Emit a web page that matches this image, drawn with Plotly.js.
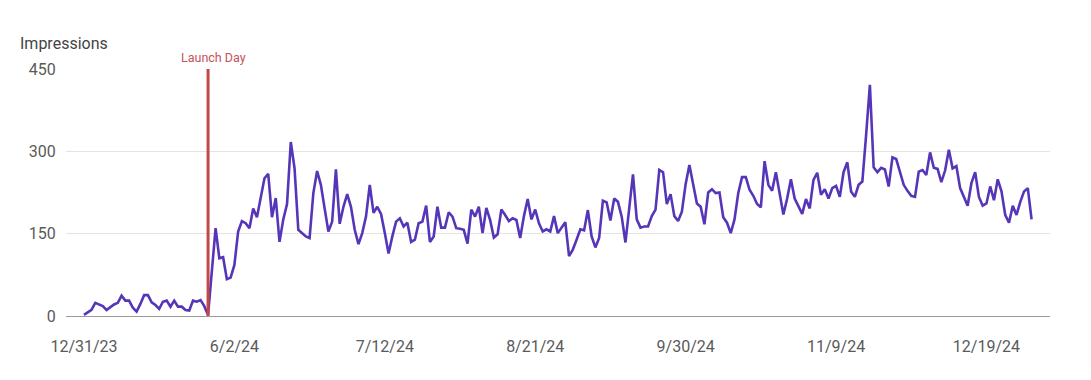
<!DOCTYPE html>
<html>
<head>
<meta charset="utf-8">
<script src="https://cdn.plot.ly/plotly-3.0.1.min.js"></script>
<style>
  html, body { margin: 0; padding: 0; background: #ffffff; }
  #chart { width: 1091px; height: 380px; }
</style>
</head>
<body>
<div id="chart"></div>
<script>
// Daily impressions (one value per reporting point)
const impressions = [
  2, 6, 11, 24, 21, 18, 11, 16, 21, 24, 37, 28, 28, 15, 8, 22, 38, 38, 25, 20,
  13, 26, 28, 17, 28, 17, 17, 11, 10, 28, 26, 29, 18, 2, 85, 160, 105, 107, 67, 70,
  93, 154, 173, 169, 160, 196, 180, 217, 251, 259, 180, 215, 135, 176, 204, 317, 269, 157, 151, 145,
  142, 224, 264, 239, 196, 154, 172, 267, 168, 199, 222, 199, 157, 131, 151, 181, 239, 188, 199, 186,
  151, 114, 145, 172, 178, 163, 170, 135, 139, 169, 172, 201, 135, 145, 199, 161, 161, 189, 181, 160,
  159, 157, 132, 194, 181, 199, 151, 197, 175, 143, 149, 194, 184, 173, 178, 175, 142, 182, 213, 176,
  194, 169, 154, 158, 154, 182, 151, 160, 171, 109, 121, 139, 158, 156, 193, 145, 125, 142, 210, 207,
  174, 214, 208, 181, 134, 196, 258, 176, 161, 163, 163, 182, 194, 266, 262, 204, 222, 182, 173, 190,
  240, 275, 242, 205, 199, 167, 225, 231, 224, 225, 180, 170, 151, 176, 224, 253, 253, 230, 219, 204,
  198, 282, 239, 228, 262, 221, 185, 214, 249, 214, 201, 186, 213, 196, 248, 261, 221, 231, 214, 233,
  237, 217, 262, 280, 227, 217, 239, 245, 330, 421, 271, 262, 270, 267, 236, 289, 286, 263, 239, 228,
  219, 217, 263, 266, 257, 298, 270, 268, 244, 265, 303, 269, 273, 233, 217, 201, 242, 262, 217, 201,
  205, 236, 211, 249, 227, 184, 170, 201, 184, 208, 227, 233, 176
];
const tickLabels = ['12/31/23', '6/2/24', '7/12/24', '8/21/24', '9/30/24', '11/9/24', '12/19/24'];
const tickStep = 40;           // points between labelled ticks
const launchIndex = 33;        // point where the launch happened
const launchLabel = 'Launch Day';
const yTicks = [0, 150, 300, 450];

const xIdx = impressions.map((_, i) => i);
const tickVals = tickLabels.map((_, k) => k * tickStep);

const trace = {
  x: xIdx,
  y: impressions,
  type: 'scatter',
  mode: 'lines',
  line: { color: '#5636b8', width: 2.6 },
  hoverinfo: 'x+y'
};

const layout = {
  width: 1091,
  height: 380,
  margin: { l: 66, r: 41, t: 69, b: 64 },
  paper_bgcolor: '#ffffff',
  plot_bgcolor: '#ffffff',
  showlegend: false,
  font: { family: 'Roboto, "Open Sans", sans-serif', color: '#555555' },
  xaxis: {
    range: [-4.78, 256.9],
    tickvals: tickVals,
    ticktext: tickLabels,
    showgrid: false,
    zeroline: false,
    showline: true,
    linecolor: '#9a9a9a',
    linewidth: 1.3,
    ticks: 'outside',
    ticklen: 15,
    tickcolor: 'rgba(0,0,0,0)',
    tickfont: { size: 16, color: '#5a5a5a' }
  },
  yaxis: {
    range: [0, 450],
    tickvals: yTicks,
    showgrid: true,
    gridcolor: '#e3e3e3',
    gridwidth: 1,
    zeroline: false,
    showline: false,
    ticks: 'outside',
    ticklen: 6,
    tickcolor: 'rgba(0,0,0,0)',
    tickfont: { size: 16, color: '#5a5a5a' }
  },
  shapes: [
    {
      type: 'line',
      xref: 'x', yref: 'y',
      x0: launchIndex, x1: launchIndex,
      y0: 0, y1: 450,
      line: { color: '#c24848', width: 3 }
    }
  ],
  annotations: [
    {
      text: 'Impressions',
      xref: 'paper', yref: 'paper',
      x: -0.049, y: 1.105,
      xanchor: 'left', yanchor: 'middle',
      showarrow: false,
      font: { size: 16, color: '#444444' }
    },
    {
      text: launchLabel,
      xref: 'x', yref: 'paper',
      x: launchIndex, y: 1.0,
      xanchor: 'center', yanchor: 'bottom',
      xshift: 5, yshift: 2,
      showarrow: false,
      font: { size: 12.5, color: '#c4525a' }
    }
  ]
};

Plotly.newPlot('chart', [trace], layout, { displayModeBar: false, staticPlot: true });
</script>
</body>
</html>
